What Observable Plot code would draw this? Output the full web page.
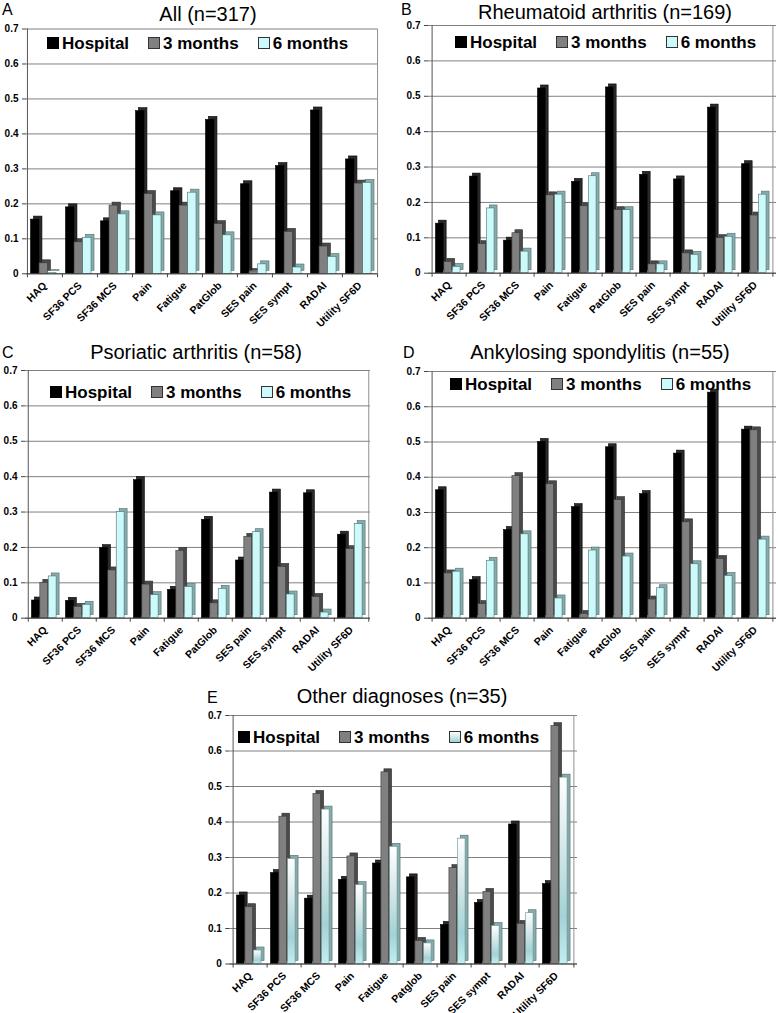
<!DOCTYPE html>
<html><head><meta charset="utf-8">
<script src="https://cdn.jsdelivr.net/npm/d3@7"></script>
<script src="https://cdn.jsdelivr.net/npm/@observablehq/plot@0.6"></script>
<style>
body{margin:0;background:#fff;}
#root{position:relative;width:778px;height:1013px;overflow:hidden;font-family:"Liberation Sans",Arial,sans-serif;color:#000;}
.panel{position:absolute;}
.title{position:absolute;font-size:20px;line-height:20px;white-space:nowrap;transform:translateX(-50%);}
.letter{position:absolute;font-size:16px;line-height:16px;}
.legend{position:absolute;display:flex;align-items:center;gap:19px;font-size:17px;font-weight:bold;line-height:17px;white-space:nowrap;}
.legend .item{display:flex;align-items:center;}
.legend .sw{display:inline-block;width:10px;height:10px;margin-right:3px;border:1px solid #333;}
</style>
</head><body><div id="root"></div>
<script>
// ---- data ----
const metrics = ["HAQ","SF36 PCS","SF36 MCS","Pain","Fatigue","PatGlob","SES pain","SES sympt","RADAI","Utility SF6D"];
const metricsE = ["HAQ","SF36 PCS","SF36 MCS","Pain","Fatigue","Patglob","SES pain","SES sympt","RADAI","Utility SF6D"];
const seriesNames = ["Hospital","3 months","6 months"];
const yTicks = [0,0.1,0.2,0.3,0.4,0.5,0.6,0.7];

const allHospital = [0.155,0.19,0.15,0.465,0.236,0.44,0.256,0.308,0.467,0.327];
const all3m       = [0.03,0.09,0.195,0.228,0.195,0.142,0.005,0.12,0.078,0.258];
const all6m       = [0.002,0.103,0.17,0.167,0.232,0.11,0.027,0.018,0.048,0.26];

const raHospital = [0.14,0.273,0.092,0.522,0.258,0.525,0.278,0.265,0.468,0.308];
const ra3m       = [0.032,0.082,0.113,0.22,0.189,0.178,0.025,0.056,0.099,0.163];
const ra6m       = [0.018,0.183,0.061,0.222,0.274,0.178,0.025,0.052,0.103,0.222];

const psaHospital = [0.05,0.049,0.198,0.39,0.08,0.278,0.163,0.355,0.353,0.236];
const psa3m       = [0.1,0.032,0.135,0.095,0.19,0.042,0.23,0.145,0.06,0.195];
const psa6m       = [0.118,0.038,0.3,0.065,0.088,0.083,0.243,0.067,0.016,0.266];

const asHospital = [0.363,0.108,0.25,0.5,0.315,0.485,0.352,0.467,0.64,0.535];
const as3m       = [0.127,0.04,0.403,0.38,0.012,0.335,0.053,0.272,0.168,0.533];
const as6m       = [0.132,0.163,0.238,0.056,0.192,0.175,0.085,0.153,0.12,0.223];

const otherHospital = [0.193,0.256,0.184,0.237,0.283,0.244,0.11,0.172,0.393,0.225];
const other3m       = [0.16,0.415,0.479,0.303,0.54,0.065,0.27,0.203,0.113,0.67];
const other6m       = [0.038,0.296,0.435,0.222,0.33,0.058,0.353,0.107,0.143,0.525];

// ---- styles ----
const frontFill = ["#000000","#808080","#ccfafa"];
const frontStroke = ["#000000","#3a3a3a","#4f6f6f"];
const sideFill = ["#2a2a2a","#4a4a4a","#86abab"];
const sideStroke = ["#000000","#2e2e2e","#4f6f6f"];

const root = document.getElementById("root");

function makePanel(cfg) {
  const {values, labels, title, letter, box, m, titlePos, letterPos, legendPos, gradient} = cfg;
  const rows = [];
  seriesNames.forEach((s, si) => labels.forEach((lab, i) => rows.push({metric: lab, series: s, value: values[si][i]})));
  const bw = (box.w - m.l - m.r) / labels.length;
  const plotH = box.h - m.t - m.b;
  const tickLen = 4 * 0.7 / plotH;
  const start = 0.1 * bw, stride = 0.243 * bw, depth = 3;
  const marks = [
    Plot.gridY(yTicks, {stroke: "#808080", strokeOpacity: 1, strokeWidth: 1}),
    Plot.ruleX([labels[labels.length - 1]], {x: d => d, y1: 0, y2: 0.7, dx: bw / 2, stroke: "#909090"}),
  ];
  seriesNames.forEach((s, i) => {
    const d = rows.filter(r => r.series === s);
    const insetLeft = start + i * stride;
    const insetRight = bw - start - (i + 1) * stride;
    marks.push(Plot.barY(d, {x: "metric", y: "value", insetLeft, insetRight, dx: depth, dy: -depth,
      fill: sideFill[i], stroke: sideStroke[i], strokeWidth: 0.6}));
    marks.push(Plot.barY(d, {x: "metric", y: "value", insetLeft, insetRight,
      fill: (gradient && i === 2) ? "url(#gradE6)" : frontFill[i],
      stroke: (gradient && i === 2) ? "#6f8f8f" : frontStroke[i], strokeWidth: 0.6}));
  });
  marks.push(
    Plot.ruleY([0], {stroke: "#444"}),
    Plot.ruleX([labels[0]], {x: d => d, y1: 0, y2: 0.7, dx: -bw / 2, stroke: "#555"}),
    Plot.ruleX(labels, {x: d => d, y1: 0, y2: -tickLen, dx: -bw / 2, stroke: "#444"}),
    Plot.ruleX([labels[labels.length - 1]], {x: d => d, y1: 0, y2: -tickLen, dx: bw / 2, stroke: "#444"}),
    Plot.axisY(yTicks, {tickSize: 4, tickPadding: 4, stroke: "#444",
      tickFormat: d => d === 0 ? "0" : d.toFixed(1), fontSize: 10, fontWeight: "bold"}),
    Plot.axisX({tickSize: 0, tickPadding: 10, tickRotate: -45, fontSize: 10.5, fontWeight: "bold"})
  );
  const svg = Plot.plot({
    width: box.w, height: box.h,
    marginLeft: m.l, marginRight: m.r, marginTop: m.t, marginBottom: m.b,
    x: {type: "band", domain: labels, padding: 0, label: null},
    y: {domain: [0, 0.7], label: null},
    style: {fontFamily: "'Liberation Sans', Arial, sans-serif", color: "#000", background: "transparent", overflow: "visible"},
    marks
  });
  if (gradient) {
    const ns = "http://www.w3.org/2000/svg";
    const defs = document.createElementNS(ns, "defs");
    const lg = document.createElementNS(ns, "linearGradient");
    lg.setAttribute("id", "gradE6");
    lg.setAttribute("x1", "0"); lg.setAttribute("y1", "0");
    lg.setAttribute("x2", "0"); lg.setAttribute("y2", "1");
    [["0%", "#ffffff"], ["40%", "#d2e6e8"], ["75%", "#a3d2d6"], ["100%", "#c2eef0"]].forEach(([o, c]) => {
      const st = document.createElementNS(ns, "stop");
      st.setAttribute("offset", o); st.setAttribute("stop-color", c);
      lg.appendChild(st);
    });
    defs.appendChild(lg);
    svg.insertBefore(defs, svg.firstChild);
  }
  const wrap = document.createElement("div");
  wrap.className = "panel";
  wrap.style.left = box.x + "px"; wrap.style.top = box.y + "px";
  wrap.appendChild(svg);
  root.appendChild(wrap);

  const t = document.createElement("div");
  t.className = "title"; t.textContent = title;
  t.style.left = titlePos[0] + "px"; t.style.top = titlePos[1] + "px";
  root.appendChild(t);
  const l = document.createElement("div");
  l.className = "letter"; l.textContent = letter;
  l.style.left = letterPos[0] + "px"; l.style.top = letterPos[1] + "px";
  root.appendChild(l);

  const lg = document.createElement("div");
  lg.className = "legend";
  lg.style.left = legendPos[0] + "px"; lg.style.top = legendPos[1] + "px";
  seriesNames.forEach((s, i) => {
    const it = document.createElement("div"); it.className = "item";
    const sw = document.createElement("span"); sw.className = "sw";
    sw.style.background = (gradient && i === 2) ? "linear-gradient(#ffffff,#a3d2d6)" : frontFill[i];
    sw.style.borderColor = i === 0 ? "#000" : "#333";
    it.appendChild(sw);
    it.appendChild(document.createTextNode(s));
    lg.appendChild(it);
  });
  root.appendChild(lg);
}

makePanel({values: [allHospital, all3m, all6m], labels: metrics, title: "All (n=317)", letter: "A",
  box: {x: 0, y: 0, w: 388, h: 325}, m: {l: 26, r: 11, t: 28.5, b: 51.7},
  titlePos: [208, 3.6], letterPos: [2, 1.5], legendPos: [47, 34.5]});
makePanel({values: [raHospital, ra3m, ra6m], labels: metrics, title: "Rheumatoid arthritis (n=169)", letter: "B",
  box: {x: 388, y: 0, w: 390, h: 325}, m: {l: 40, r: 2, t: 25, b: 52.3},
  titlePos: [605, 1.6], letterPos: [401, 1.5], legendPos: [455, 33.5]});
makePanel({values: [psaHospital, psa3m, psa6m], labels: metrics, title: "Psoriatic arthritis (n=58)", letter: "C",
  box: {x: 0, y: 325, w: 388, h: 340}, m: {l: 25, r: 18, t: 45, b: 47.3},
  titlePos: [196, 342], letterPos: [2, 344.5], legendPos: [50, 383.5]});
makePanel({values: [asHospital, as3m, as6m], labels: metrics, title: "Ankylosing spondylitis (n=55)", letter: "D",
  box: {x: 388, y: 325, w: 390, h: 340}, m: {l: 40, r: 2, t: 46, b: 47.3},
  titlePos: [600, 342], letterPos: [403, 344.5], legendPos: [450, 375.5]});
makePanel({values: [otherHospital, other3m, other6m], labels: metricsE, title: "Other diagnoses (n=35)", letter: "E",
  box: {x: 190, y: 665, w: 400, h: 348}, m: {l: 39.3, r: 13, t: 50, b: 49.5},
  titlePos: [402, 686], letterPos: [207, 689.5], legendPos: [238, 728.5], gradient: true});
</script>
</body></html>
